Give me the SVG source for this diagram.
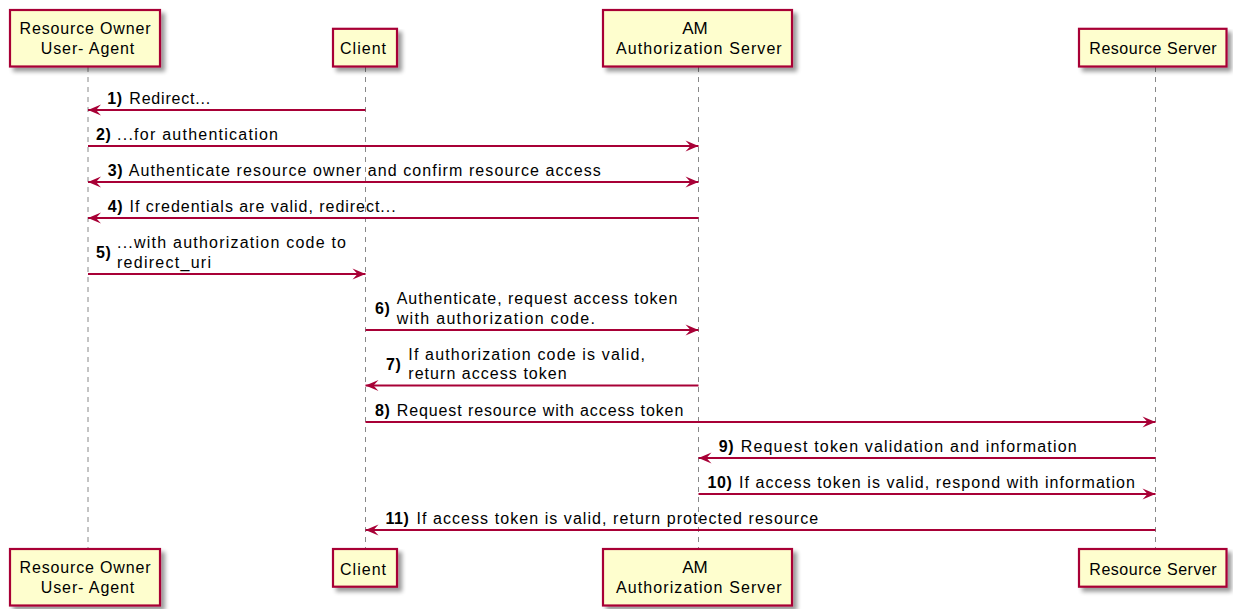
<svg xmlns="http://www.w3.org/2000/svg" width="1233" height="609" viewBox="0 0 1233 609">
<defs>
<filter id="sh" x="-10%" y="-10%" width="130%" height="140%">
<feGaussianBlur in="SourceAlpha" stdDeviation="2"/>
<feOffset dx="4" dy="4" result="b"/>
<feComponentTransfer><feFuncA type="linear" slope="0.4"/></feComponentTransfer>
<feMerge><feMergeNode/><feMergeNode in="SourceGraphic"/></feMerge>
</filter>
<marker id="ah" viewBox="-14 -6 15 12" refX="0" refY="0" markerWidth="15" markerHeight="12" markerUnits="userSpaceOnUse" orient="auto-start-reverse">
<path d="M0,0 L-13,-5.5 L-8,0 L-13,5.5 Z" fill="#A80036"/>
</marker>
<style>
.box{fill:#FEFECE;stroke:#A80036;stroke-width:2.2;filter:url(#sh)}
.pt{font-family:"Liberation Sans",Arial,sans-serif;font-size:16px;fill:#000}
.mid{text-anchor:middle}
.life{stroke:#888;stroke-width:1;stroke-dasharray:5,5;fill:none}
.msg{stroke:#A80036;stroke-width:2;fill:none;marker-end:url(#ah)}
.num{font-family:"Liberation Sans",Arial,sans-serif;font-size:16px;font-weight:bold;letter-spacing:0.6px;fill:#000}
.lbl{font-family:"Liberation Sans",Arial,sans-serif;font-size:16px;fill:#000}
</style>
</defs>
<rect width="1233" height="609" fill="#fff"/>
<g id="lifelines">
<line class="life" x1="88" y1="67" x2="88" y2="549"/>
<line class="life" x1="365.5" y1="67" x2="365.5" y2="549"/>
<line class="life" x1="698.5" y1="67" x2="698.5" y2="549"/>
<line class="life" x1="1155.5" y1="67" x2="1155.5" y2="549"/>
</g>
<g id="resource-owner">
<rect class="box" x="10" y="10" width="150" height="56.5"/>
<text class="pt" x="19.5" y="33.7" textLength="131" lengthAdjust="spacing">Resource Owner</text>
<text class="pt" x="40.7" y="54.3" textLength="93.6" lengthAdjust="spacing">User- Agent</text>
<rect class="box" x="10" y="549" width="150" height="56.5"/>
<text class="pt" x="19.5" y="572.7" textLength="131" lengthAdjust="spacing">Resource Owner</text>
<text class="pt" x="40.7" y="593.3" textLength="93.6" lengthAdjust="spacing">User- Agent</text>
</g>
<g id="client">
<rect class="box" x="333" y="28.8" width="64" height="37.7"/>
<text class="pt" x="340" y="54.3" textLength="46" lengthAdjust="spacing">Client</text>
<rect class="box" x="333" y="549" width="64" height="37.7"/>
<text class="pt" x="340" y="574.5" textLength="46" lengthAdjust="spacing">Client</text>
</g>
<g id="am-server">
<rect class="box" x="603" y="10" width="189" height="56.5"/>
<text class="pt mid" x="695" y="33.7" style="font-size:17px">AM</text>
<text class="pt" x="616" y="54.3" textLength="165.7" lengthAdjust="spacing">Authorization Server</text>
<rect class="box" x="603" y="549" width="189" height="56.5"/>
<text class="pt mid" x="695" y="572.7" style="font-size:17px">AM</text>
<text class="pt" x="616" y="593.3" textLength="165.7" lengthAdjust="spacing">Authorization Server</text>
</g>
<g id="resource-server">
<rect class="box" x="1079" y="28.8" width="147.5" height="37.7"/>
<text class="pt" x="1089.3" y="54.3" textLength="127.4" lengthAdjust="spacing">Resource Server</text>
<rect class="box" x="1079" y="549" width="147.5" height="37.7"/>
<text class="pt" x="1089.3" y="574.5" textLength="127.4" lengthAdjust="spacing">Resource Server</text>
</g>
<g id="connectors">
<line class="msg" x1="365.5" y1="110" x2="88" y2="110"/>
<text class="num" x="107.3" y="103.5">1)</text>
<text class="lbl" x="129.3" y="103.5" textLength="81" lengthAdjust="spacing">Redirect...</text>

<line class="msg" x1="88" y1="146" x2="698.5" y2="146"/>
<text class="num" x="96" y="139.5">2)</text>
<text class="lbl" x="117" y="139.5" textLength="161" lengthAdjust="spacing">...for authentication</text>

<line class="msg" x1="88" y1="182" x2="698.5" y2="182" marker-start="url(#ah)"/>
<text class="num" x="107.7" y="175.5">3)</text>
<text class="lbl" x="128.8" y="175.5" textLength="472" lengthAdjust="spacing">Authenticate resource owner and confirm resource access</text>

<line class="msg" x1="698.5" y1="218" x2="88" y2="218"/>
<text class="num" x="107.7" y="211.5">4)</text>
<text class="lbl" x="129.6" y="211.5" textLength="266" lengthAdjust="spacing">If credentials are valid, redirect...</text>

<line class="msg" x1="88" y1="274" x2="365.5" y2="274"/>
<text class="num" x="96" y="258">5)</text>
<text class="lbl" x="117" y="248" textLength="229" lengthAdjust="spacing">...with authorization code to</text>
<text class="lbl" x="117" y="267.5" textLength="94" lengthAdjust="spacing">redirect_uri</text>

<line class="msg" x1="365.5" y1="330" x2="698.5" y2="330"/>
<text class="num" x="375" y="314">6)</text>
<text class="lbl" x="396.7" y="304" textLength="280.6" lengthAdjust="spacing">Authenticate, request access token</text>
<text class="lbl" x="396.7" y="323.5" textLength="198.3" lengthAdjust="spacing">with authorization code.</text>

<line class="msg" x1="698.5" y1="385.5" x2="365.5" y2="385.5"/>
<text class="num" x="386" y="370">7)</text>
<text class="lbl" x="408.3" y="359.5" textLength="236.7" lengthAdjust="spacing">If authorization code is valid,</text>
<text class="lbl" x="408.3" y="379" textLength="158.4" lengthAdjust="spacing">return access token</text>

<line class="msg" x1="365.5" y1="422" x2="1155.5" y2="422"/>
<text class="num" x="375" y="415.5">8)</text>
<text class="lbl" x="396.7" y="415.5" textLength="286.6" lengthAdjust="spacing">Request resource with access token</text>

<line class="msg" x1="1155.5" y1="458" x2="698.5" y2="458"/>
<text class="num" x="718.8" y="451.5">9)</text>
<text class="lbl" x="740.7" y="451.5" textLength="336" lengthAdjust="spacing">Request token validation and information</text>

<line class="msg" x1="698.5" y1="494" x2="1155.5" y2="494"/>
<text class="num" x="707.5" y="487.5">10)</text>
<text class="lbl" x="738.9" y="487.5" textLength="396" lengthAdjust="spacing">If access token is valid, respond with information</text>

<line class="msg" x1="1155.5" y1="530" x2="365.5" y2="530"/>
<text class="num" x="385.5" y="523.5">11)</text>
<text class="lbl" x="416.5" y="523.5" textLength="401.7" lengthAdjust="spacing">If access token is valid, return protected resource</text>
</g>
</svg>
